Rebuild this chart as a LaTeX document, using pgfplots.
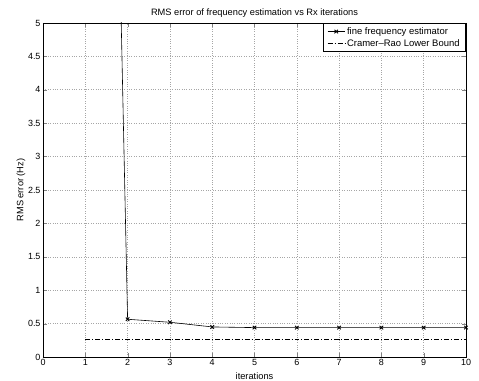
\documentclass[border=0pt]{standalone}
\usepackage{pgfplots}
\pgfplotsset{compat=1.18}
\usepackage{fontspec}
\setmainfont{Liberation Sans}
\begin{document}
\begin{tikzpicture}
\begin{axis}[
  at={(0,0)}, anchor=south west,
  scale only axis,
  width=423bp, height=334bp,
  xmin=0, xmax=10, ymin=0, ymax=5,
  xtick={0,1,...,10},
  ytick={0,0.5,...,5},
  yticklabels={0,0.5,1,1.5,2,2.5,3,3.5,4,4.5,5},
  /pgf/number format/assume math mode=true,
  tick label style={font=\fontsize{9}{10}\selectfont},
  xticklabel style={yshift=1bp},
  yticklabel style={xshift=1bp},
  label style={font=\fontsize{9.3}{10}\selectfont},
  title style={font=\fontsize{9.3}{10}\selectfont, at={([yshift=4bp]axis description cs:0.5,1)}, anchor=center},
  title={RMS error of frequency estimation vs Rx iterations},
  xlabel={iterations},
  ylabel={RMS error (Hz)},
  xlabel style={at={([yshift=-19bp]axis description cs:0.5,0)}, anchor=center},
  ylabel style={at={([xshift=-22bp]axis description cs:0,0.5)}, anchor=center},
  grid=major,
  major grid style={gray!70, dotted, line width=0.6pt},
  tick align=inside,
  tick pos=both,
  major tick length=4bp,
  axis line style={line width=0.8pt},
  legend style={at={(1,1)}, anchor=north east, draw=black, line width=0.8pt,
    font=\fontsize{9.5}{10}\selectfont, inner xsep=4pt, inner ysep=2pt, row sep=-0.5pt, cells={anchor=west}},
  legend cell align=left,
]
\addplot[black, line width=0.6pt, mark=x, mark size=2.5pt, mark options={solid, line width=0.9pt}] coordinates {
(1,30) (2,0.565) (3,0.52) (4,0.45) (5,0.44) (6,0.44) (7,0.44) (8,0.44) (9,0.44) (10,0.44)
};
\addlegendentry{fine frequency estimator}
\addplot[black, line width=0.6pt, dash pattern=on 5pt off 2pt on 1pt off 2pt] coordinates {
(1,0.265) (2,0.265) (3,0.265) (4,0.265) (5,0.265) (6,0.265) (7,0.265) (8,0.265) (9,0.265) (10,0.265)
};
\addlegendentry{Cramer--Rao Lower Bound}
\end{axis}
\pgfresetboundingbox
\useasboundingbox (-43bp,-24bp) rectangle (436bp,357bp);
\end{tikzpicture}
\end{document}
